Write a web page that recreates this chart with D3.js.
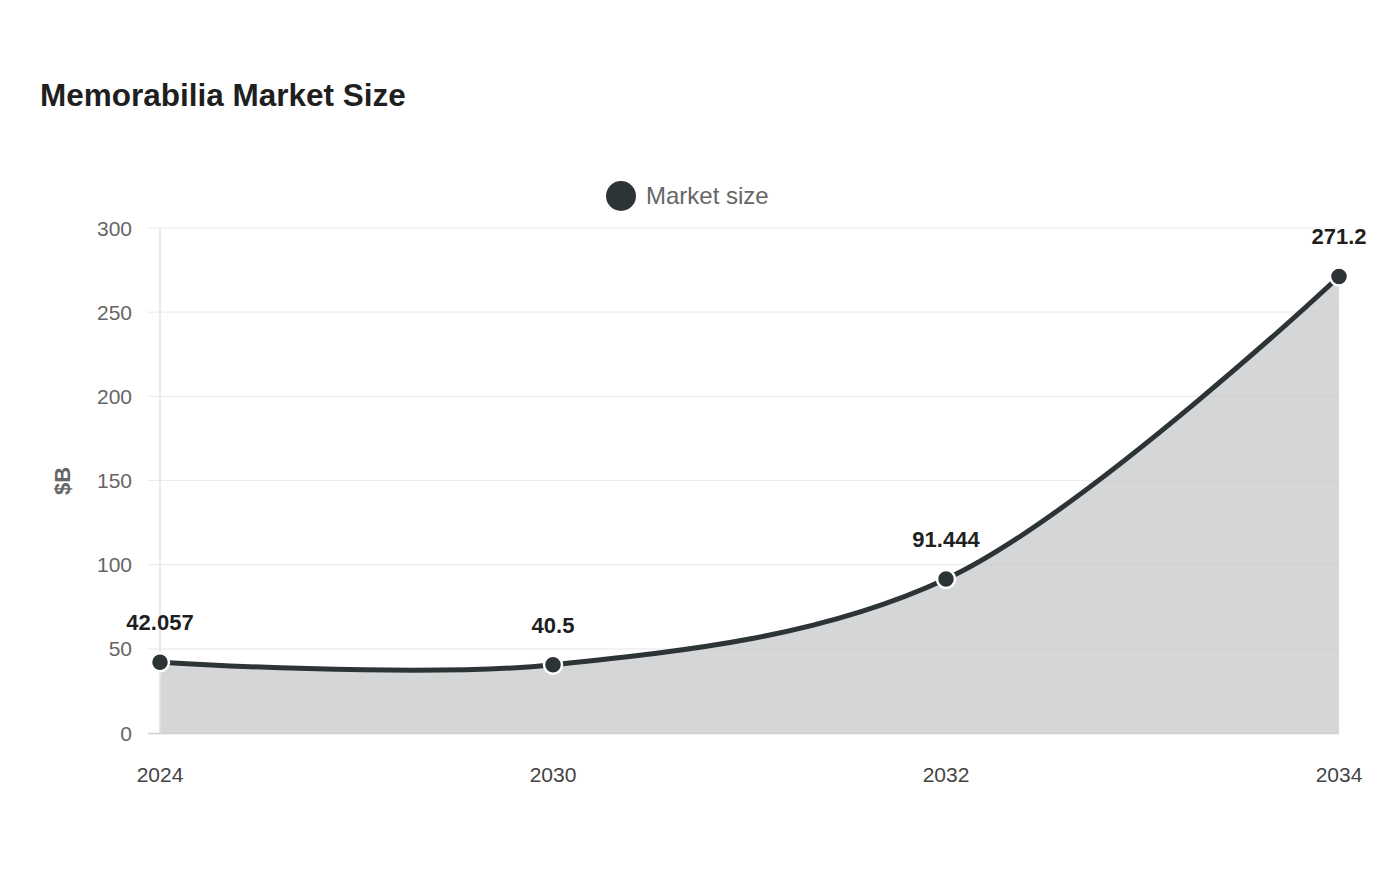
<!doctype html>
<head>
  <meta charset="utf-8">
  <script src="https://cdnjs.cloudflare.com/ajax/libs/d3/7.8.2/d3.min.js"></script>
</head>
<style>
    body { margin: 0; background: #fff; }
    text { font-family: "Liberation Sans", Arial, sans-serif; }
</style>
<body>
    <div id="chart"></div>
    <script>
        // Datos
        const years = ["2024", "2030", "2032", "2034"];
        const marketSize = [42.057, 40.5, 91.444, 271.2];
        const yTicks = [0, 50, 100, 150, 200, 250, 300];

        const data = years.map((y, i) => ({year: y, value: marketSize[i]}));

        const width = 1400, height = 880;
        const svg = d3.select('#chart').append('svg')
            .attr('width', width)
            .attr('height', height);

        const x = d3.scalePoint().domain(years).range([160, 1339]);
        const y = d3.scaleLinear().domain([0, 300]).range([733, 228]);

        // Titulo
        svg.append('text')
            .attr('x', 40).attr('y', 106)
            .attr('font-size', 31.5).attr('font-weight', 'bold')
            .attr('fill', '#1f1f1f')
            .text('Memorabilia Market Size');

        // Leyenda
        svg.append('circle').attr('cx', 621).attr('cy', 196).attr('r', 15).attr('fill', '#2d3436');
        svg.append('text')
            .attr('x', 646).attr('y', 204)
            .attr('font-size', 24).attr('fill', '#666')
            .text('Market size');

        // Area
        const curve = d3.curveCatmullRom.alpha(0.5);
        const area = d3.area()
            .x(d => x(d.year)).y0(y(0)).y1(d => y(d.value))
            .curve(curve);
        svg.append('path').datum(data)
            .attr('d', area)
            .attr('fill', '#2d3436').attr('fill-opacity', 0.2);

        // Rejilla
        svg.append('g').selectAll('line')
            .data(yTicks.filter(t => t > 0))
            .enter().append('line')
            .attr('x1', 148).attr('x2', 1339)
            .attr('y1', d => y(d)).attr('y2', d => y(d))
            .attr('stroke', '#c8c8c8').attr('stroke-opacity', 0.35).attr('stroke-width', 1.2);

        // Eje Y
        svg.append('line')
            .attr('x1', 160).attr('x2', 160).attr('y1', 228).attr('y2', 733)
            .attr('stroke', '#e3e3e3').attr('stroke-width', 1.5);
        svg.append('g').selectAll('text')
            .data(yTicks).enter().append('text')
            .attr('x', 132).attr('y', d => y(d) + 7.5)
            .attr('text-anchor', 'end')
            .attr('font-size', 21).attr('fill', '#666')
            .text(d => d);

        // Eje X
        svg.append('line')
            .attr('x1', 148).attr('x2', 1339).attr('y1', 733.5).attr('y2', 733.5)
            .attr('stroke', '#d0d0d0').attr('stroke-width', 1.5);
        svg.append('g').selectAll('text')
            .data(years).enter().append('text')
            .attr('x', d => x(d)).attr('y', 782)
            .attr('text-anchor', 'middle')
            .attr('font-size', 21).attr('fill', '#444')
            .text(d => d);

        // Titulo eje Y
        svg.append('text')
            .attr('transform', 'translate(70,481) rotate(-90)')
            .attr('text-anchor', 'middle')
            .attr('font-size', 22).attr('font-weight', 'bold').attr('fill', '#666')
            .text('$B');

        // Linea
        const line = d3.line()
            .x(d => x(d.year)).y(d => y(d.value))
            .curve(curve);
        svg.append('path').datum(data)
            .attr('d', line)
            .attr('fill', 'none')
            .attr('stroke', '#2d3436').attr('stroke-width', 5);

        // Puntos
        svg.append('g').selectAll('circle')
            .data(data).enter().append('circle')
            .attr('cx', d => x(d.year)).attr('cy', d => y(d.value))
            .attr('r', 9)
            .attr('fill', '#2d3436')
            .attr('stroke', '#fff').attr('stroke-width', 2.5);

        // Etiquetas
        svg.append('g').selectAll('text')
            .data(data).enter().append('text')
            .attr('x', d => x(d.year)).attr('y', d => y(d.value) - 32)
            .attr('text-anchor', 'middle')
            .attr('font-size', 22).attr('font-weight', 'bold').attr('fill', '#1f1f1f')
            .text(d => d.value);
    </script>
</body>
